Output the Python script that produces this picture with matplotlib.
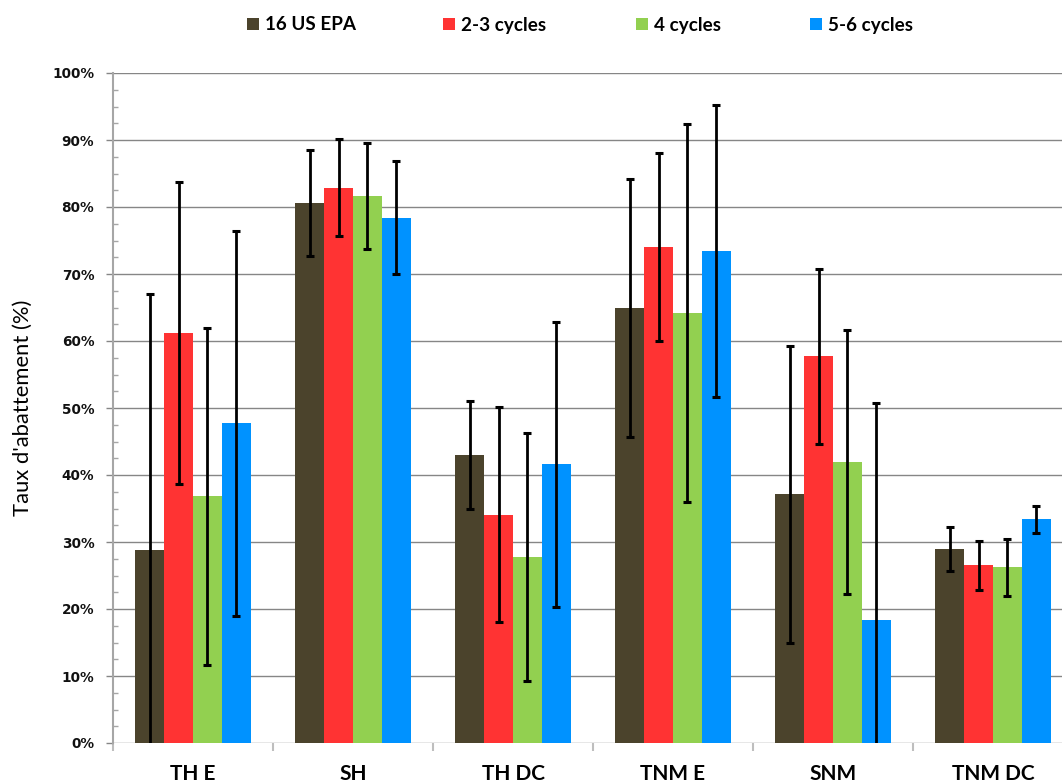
import numpy as np
import matplotlib
matplotlib.use("Agg")
import matplotlib.pyplot as plt
from matplotlib.ticker import MultipleLocator, FixedLocator, PercentFormatter

# --- data ---
categories = ["TH E", "SH", "TH DC", "TNM E", "SNM", "TNM DC"]
series = ["16 US EPA", "2-3 cycles", "4 cycles", "5-6 cycles"]
colors = ["#4B432C", "#FF3333", "#92D050", "#0092FF"]

epa16 = [28.8, 80.6, 43.0, 64.9, 37.1, 29.0]
cyc23 = [61.2, 82.9, 34.1, 74.0, 57.7, 26.5]
cyc4 = [36.8, 81.7, 27.8, 64.2, 42.0, 26.2]
cyc56 = [47.7, 78.4, 41.6, 73.4, 18.4, 33.4]

err_epa16 = [38.2, 7.9, 8.1, 19.3, 22.2, 3.3]
err_cyc23 = [22.5, 7.3, 16.0, 14.0, 13.1, 3.7]
err_cyc4 = [25.1, 7.9, 18.5, 28.2, 19.7, 4.2]
err_cyc56 = [28.7, 8.4, 21.3, 21.8, 32.3, 2.0]

values = [epa16, cyc23, cyc4, cyc56]
errors = [err_epa16, err_cyc23, err_cyc4, err_cyc56]

FONT = ["Lato", "DejaVu Sans"]

W, H = 1062, 783
fig = plt.figure(figsize=(W / 100, H / 100), dpi=100)
ax = fig.add_axes([113 / W, 1 - 743 / H, 960 / W, 670 / H])

x = np.arange(len(categories))
bw = 0.18
handles = []
for i, (vals, errs, col, lab) in enumerate(zip(values, errors, colors, series)):
    pos = x + (i - 1.5) * bw
    b = ax.bar(pos, vals, width=bw, color=col, label=lab, zorder=2)
    handles.append(b)
    ax.errorbar(pos, vals, yerr=errs, fmt="none", ecolor="black",
                elinewidth=2.0, capsize=2.6, capthick=2.2, zorder=3)

ax.set_xlim(-0.5, len(categories) - 0.5)
ax.set_ylim(0, 100)

# y axis
ax.yaxis.set_major_locator(MultipleLocator(10))
ax.yaxis.set_minor_locator(MultipleLocator(2.5))
ax.yaxis.set_major_formatter(PercentFormatter(decimals=0))
ax.grid(axis="y", which="major", color="#868686", linewidth=1.0, zorder=0)
ax.set_axisbelow(True)
ax.tick_params(axis="y", which="major", direction="out", length=5,
               width=1.0, color="#868686", pad=8.5)
ax.tick_params(axis="y", which="minor", direction="in", length=3.6,
               width=1.0, color="#A6A6A6")
for t in ax.get_yticklabels():
    t.set_fontfamily("DejaVu Sans")
    t.set_fontweight("bold")
    t.set_fontsize(9.8)
    t.set_color("#111111")

# x axis: boundary ticks + category labels
ax.xaxis.set_major_locator(FixedLocator(np.arange(-0.5, len(categories), 1.0)))
ax.xaxis.set_minor_locator(FixedLocator(x))
ax.set_xticklabels([], minor=False)
ax.set_xticklabels(categories, minor=True, fontfamily=FONT,
                   fontweight="bold", fontsize=15)
ax.tick_params(axis="x", which="major", direction="out", length=5.5,
               width=1.5, color="#BEBEBE")
ax.tick_params(axis="x", which="minor", length=0, pad=15)

for s in ["top", "right", "bottom"]:
    ax.spines[s].set_visible(False)
ax.spines["left"].set_color("#A6A6A6")
ax.spines["left"].set_linewidth(1.5)

ax.set_ylabel("Taux d'abattement (%)", fontfamily=FONT, fontsize=15.8)
ax.yaxis.set_label_coords(-0.083, 0.5)

# legend entries, placed one by one like the original
legend_x = [247, 443, 636, 810]
for h, lab, lx in zip(handles, series, legend_x):
    fig.legend([h], [lab], loc="center left", bbox_to_anchor=(lx / W, 1 - 25 / H),
               frameon=False, borderpad=0, borderaxespad=0,
               handlelength=0.65, handleheight=0.65, handletextpad=0.3,
               prop={"family": FONT, "weight": "bold", "size": 13.6})

fig.savefig("out.png", dpi=100)
